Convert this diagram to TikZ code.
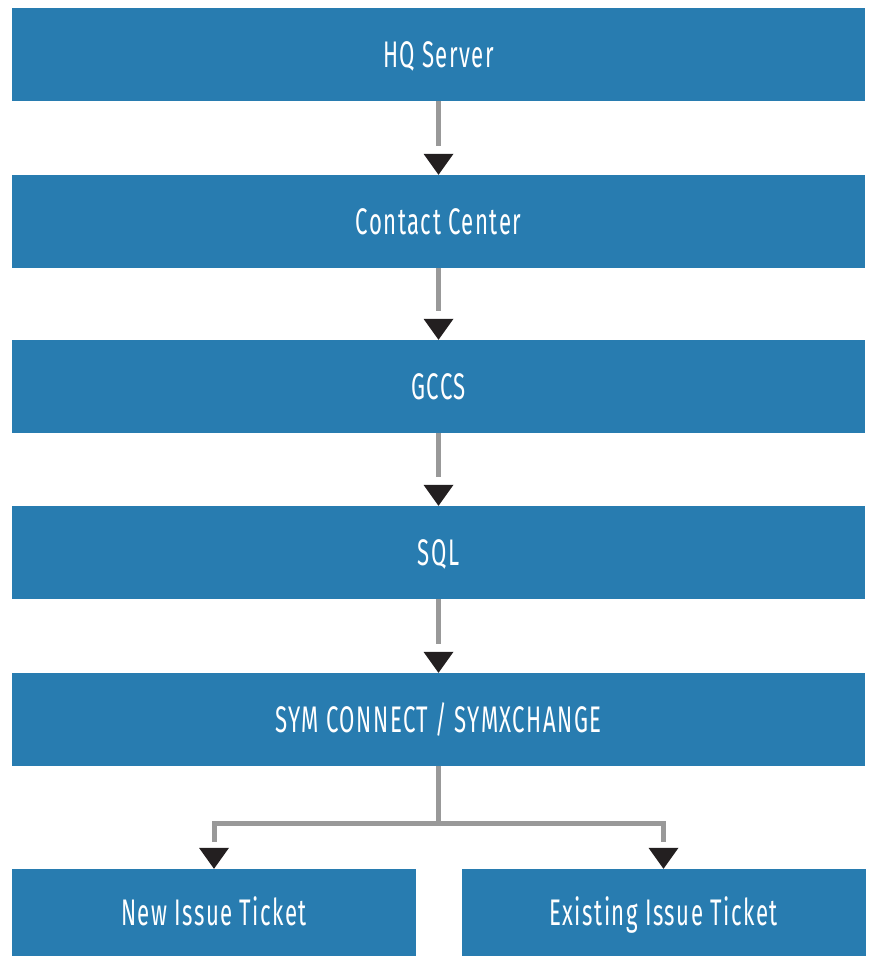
\documentclass[tikz,border=0pt]{standalone}
\usepackage{fontspec}
\setmainfont{Fira Sans}[FakeStretch=0.6,LetterSpace=4]
\definecolor{boxblue}{HTML}{287CB0}
\definecolor{conngray}{HTML}{999999}
\definecolor{tipblack}{HTML}{231F20}
\begin{document}
\begin{tikzpicture}[x=1pt,y=-1pt,
  box/.style={rectangle,fill=boxblue,draw=none,minimum width=853pt,minimum height=93pt,inner sep=0pt,
    text=white,font=\fontsize{37}{39}\selectfont,text height=25pt,text depth=0pt},
  smallbox/.style={box,minimum width=404pt,minimum height=87pt},
  conn/.style={draw=conngray,line width=5pt,line join=miter},
  tri/.style={fill=tipblack}]
\useasboundingbox (0,0) rectangle (869,956);
\node[box] (a) at (438.5,54.5) {HQ Server};
\node[box] (b) at (438.5,221.5) {Contact Center};
\node[box] (c) at (438.5,386.5) {GCCS};
\node[box] (d) at (438.5,552.5) {SQL};
\node[box] (e) at (438.5,719.5) {SYM CONNECT / SYMXCHANGE};
\node[smallbox] (l) at (214,912.5) {New Issue Ticket};
\node[smallbox] (r) at (663.5,912.5) {Existing Issue Ticket};
\foreach \u/\v in {a/b,b/c,c/d,d/e}{
  \draw[conn] (\u.south) -- ([yshift=29pt]\v.north);
  \fill[tri] (\v.north) -- ++(-15,-21) -- ++(30,0) -- cycle;
}
\coordinate (j) at ([yshift=-57.5pt]e.south);
\draw[conn] (e.south) -- (j);
\draw[conn] ([xshift=2.5pt]j) -| ([yshift=27pt]l.north);
\draw[conn] ([xshift=-2.5pt]j) -| ([yshift=27pt]r.north);
\fill[tri] (l.north) -- ++(-15,-21) -- ++(30,0) -- cycle;
\fill[tri] (r.north) -- ++(-15,-21) -- ++(30,0) -- cycle;
\end{tikzpicture}
\end{document}
